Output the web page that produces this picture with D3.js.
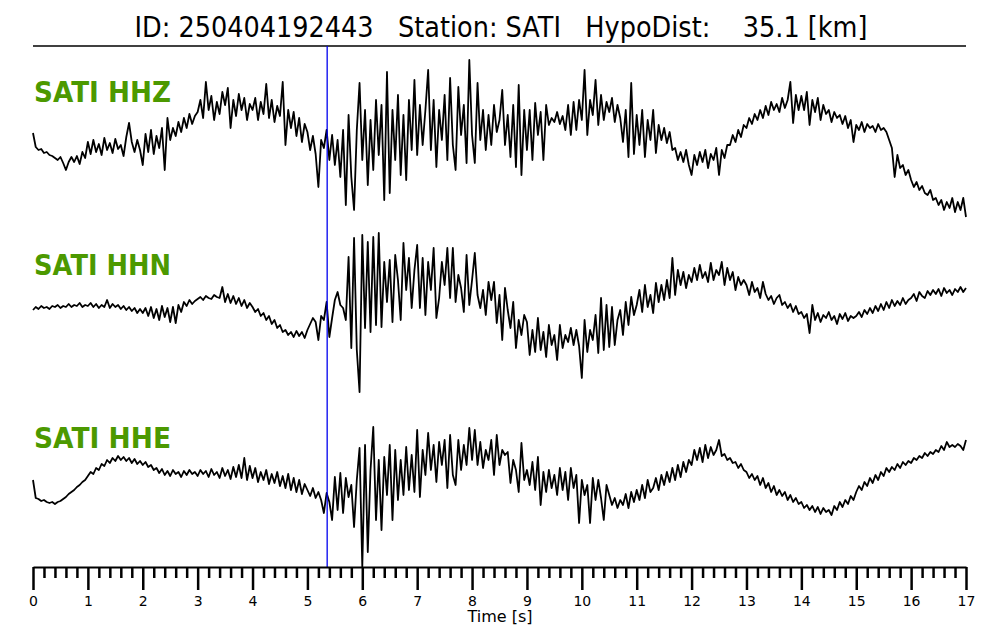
<!DOCTYPE html>
<html><head><meta charset="utf-8">
<script src="https://cdn.jsdelivr.net/npm/d3@7"></script>
<style>body{margin:0;background:#fff}</style>
</head><body>
<svg id="c" width="1000" height="640"></svg>
<script>
const eventId = "250404192443";
const station = "SATI";
const hypoDist = "35.1";
const channels = ["HHZ", "HHN", "HHE"];
const pickTime = 5.36;
const majorTicks = [0,1,2,3,4,5,6,7,8,9,10,11,12,13,14,15,16,17];
const timeLabel = "Time [s]";

const hhz = [
 7,-7,-10,-9,-13,-12,-15,-16,-18,-20,-17,-23,-30,-22,-17,-22,-16,-24,-12,-18,
 -2,-14,0,-12,-4,-15,2,-10,-3,-13,1,-9,-5,-16,3,17,-2,-12,0,-10,
 -25,6,-12,10,-14,4,-8,12,-30,22,0,12,4,18,8,22,12,26,16,24,
 28,40,22,58,30,44,20,38,26,48,35,52,12,40,24,46,30,42,20,36,
 30,42,20,38,26,56,22,40,18,34,24,58,-5,30,12,28,4,22,-2,16,
 8,-10,4,-14,-47,0,-8,10,-20,5,-25,0,-37,10,-65,25,-37,-70,10,57,
 -20,30,-45,20,-30,40,-15,35,-60,68,-53,30,-20,45,-35,25,-40,40,-10,60,
 -15,35,-5,30,70,-10,40,-27,30,0,45,-20,62,-5,-30,53,5,35,-23,80,
 5,-23,57,0,30,-10,25,-5,35,8,20,50,-5,25,-17,35,-27,55,-35,30,
 -10,30,-20,37,5,28,-20,35,15,22,18,28,16,24,10,35,5,38,10,40,
 20,70,5,40,25,60,15,45,20,38,28,42,18,35,22,-2,30,-17,57,-14,
 25,-5,30,-17,20,0,30,-13,15,0,12,-3,8,-10,-8,-20,-12,-22,-10,-25,
 -35,-15,-25,-12,-22,-10,-28,-14,-20,-8,-35,-10,-18,-5,-5,5,-2,10,3,15,
 12,22,16,26,20,30,22,34,25,38,30,36,28,42,32,40,58,17,45,30,
 44,30,48,15,40,28,42,20,35,26,30,18,28,22,25,16,24,12,20,-2,
 15,10,18,8,16,12,14,8,16,10,12,8,0,-8,-37,-15,-28,-25,-35,-30,
 -40,-47,-42,-50,-46,-53,-55,-50,-60,-58,-65,-60,-70,-62,-68,-58,-72,-62,-70,-58,-77
];
const hhn = [
 0,3,1,4,2,3,1,4,3,5,2,4,3,6,3,5,4,7,3,5,
 4,7,3,6,2,5,3,10,2,6,3,5,1,4,0,3,-1,2,-3,1,
 -3,2,-6,3,-8,1,-10,4,-7,2,-12,3,-13,5,-2,8,4,10,6,9,
 11,13,10,14,12,11,15,13,12,23,8,16,7,14,6,12,4,10,2,7,
 3,-2,1,-6,-3,-10,-6,-14,-10,-18,-15,-22,-20,-25,-22,-27,-21,-26,-22,-28,
 -20,-14,-8,-12,-30,-6,-10,8,-27,-8,10,18,5,2,-10,53,-38,72,-40,-82,
 75,-18,68,-22,73,-15,77,-17,48,8,50,-12,55,30,-10,67,20,52,2,40,
 65,2,52,-5,48,20,62,-8,12,48,25,62,12,62,8,35,22,-2,55,5,
 30,57,15,2,20,-5,28,10,28,-13,15,-30,22,0,-18,8,-38,-10,-25,-5,
 -12,-45,-20,-42,-8,-40,-22,-47,-15,-35,-25,-50,-15,-38,-25,-32,-18,-35,-20,-36,
 -68,-10,-42,-20,-30,-5,-43,12,-40,5,-37,3,-35,-10,0,-25,8,-15,13,-5,
 5,20,-2,25,3,15,-3,27,8,25,10,30,12,52,15,40,25,38,22,35,
 28,42,30,45,32,38,28,47,30,40,35,48,25,42,30,38,20,33,25,30,
 25,15,28,18,22,12,28,16,10,14,6,12,15,5,8,2,6,-2,4,-4,
 -2,-8,-4,-23,5,-10,-3,-12,-5,-8,-2,-10,-6,-14,-4,-9,-3,-11,-6,-8,
 -6,-2,-7,0,-4,2,-3,4,-1,6,0,8,2,10,4,9,5,12,6,10,
 12,16,9,18,14,12,19,15,20,16,21,14,22,17,20,15,21,18,23,18,22
];
const hhe = [
 0,-18,-19,-21,-20,-22,-23,-22,-24,-22,-21,-19,-17,-14,-12,-10,-7,-5,-2,0,
 4,8,6,12,10,16,14,20,17,22,19,24,20,23,19,22,17,21,16,19,
 15,18,13,15,10,12,7,11,5,9,4,10,6,8,3,9,5,10,6,8,
 4,10,6,9,3,11,5,8,2,12,4,10,1,13,3,15,2,22,0,14,
 2,12,-2,8,0,10,-4,6,-3,8,-6,4,-8,6,-10,2,-12,0,-14,-4,
 -10,-16,-8,-18,-12,-20,-33,-13,-22,-40,3,-30,7,-33,2,-17,-5,-47,0,32,
 -87,35,-72,10,53,-40,20,-50,23,-15,35,-40,30,-20,20,-15,33,-10,25,-12,
 50,-17,30,5,47,10,35,-2,38,15,40,-8,45,5,-5,40,10,35,15,52,
 20,50,15,38,12,30,20,40,5,45,15,30,25,28,-3,20,10,-12,37,0,
 10,-5,18,-10,23,-25,8,-12,10,-8,5,-15,12,-10,8,-20,12,-8,5,-43,
 0,-15,-5,-43,2,-20,0,-18,-40,-5,-15,-25,-18,-28,-20,-25,-14,-28,-12,-22,
 -10,-20,-5,-18,0,-12,-8,2,-10,5,-5,8,-2,12,0,15,3,18,8,20,
 15,30,20,32,18,35,22,33,25,30,40,24,26,20,22,17,18,12,16,10,
 8,2,6,0,4,-5,2,-8,-3,-12,-6,-15,-10,-16,-12,-20,-15,-22,-18,-24,
 -22,-28,-25,-30,-26,-32,-27,-34,-28,-32,-30,-35,-26,-30,-22,-27,-20,-24,-16,-20,
 -12,-6,-10,-2,-6,2,-3,5,0,8,4,12,8,13,10,16,12,18,15,19,
 17,22,20,24,22,27,24,28,26,30,28,34,30,38,33,35,33,36,34,30,40
];
const traces = [hhz, hhn, hhe];

const svg = d3.select("#c");
const W = 1000, H = 640;
const left = 33, right = 966, axisY = 567, topLine = 46;
const x = d3.scaleLinear().domain([0, 17]).range([left, right]);
const centers = [140, 310, 480];
const labelY = [102, 275, 448];

svg.append("rect").attr("width", W).attr("height", H).attr("fill", "#fff");

// title
svg.append("text")
  .attr("x", 501).attr("y", 37)
  .attr("text-anchor", "middle")
  .attr("font-family", "DejaVu Sans")
  .attr("font-size", 28)
  .attr("textLength", 733).attr("lengthAdjust", "spacingAndGlyphs")
  .style("white-space", "pre")
  .text(`ID: ${eventId}   Station: ${station}   HypoDist:    ${hypoDist} [km]`);

svg.append("line")
  .attr("x1", left).attr("x2", right).attr("y1", topLine).attr("y2", topLine)
  .attr("stroke", "#000").attr("stroke-width", 1.5);

// traces
traces.forEach((d, k) => {
  const y = d3.scaleLinear().domain([-100, 100]).range([centers[k] + 100, centers[k] - 100]);
  const n = d.length;
  const line = d3.line()
    .x((v, i) => x(i * 17 / (n - 1)))
    .y(v => y(v));
  svg.append("path").datum(d)
    .attr("d", line)
    .attr("fill", "none").attr("stroke", "#000")
    .attr("stroke-width", 1.8).attr("stroke-linejoin", "round");
  svg.append("text")
    .attr("x", 34).attr("y", labelY[k])
    .attr("font-family", "DejaVu Sans").attr("font-weight", "bold")
    .attr("font-size", 28).attr("fill", "#4c9900")
    .attr("textLength", 137).attr("lengthAdjust", "spacingAndGlyphs")
    .text(`${station} ${channels[k]}`);
});

// pick line
svg.append("line")
  .attr("x1", x(pickTime)).attr("x2", x(pickTime))
  .attr("y1", topLine).attr("y2", axisY)
  .attr("stroke", "#0000ee").attr("stroke-width", 1.3);

// axis
const minorTicks = d3.range(0, 85).map(i => i / 5).filter(v => Math.abs(v - Math.round(v)) > 1e-6);
const gMinor = svg.append("g").attr("transform", `translate(0,${axisY})`)
  .call(d3.axisBottom(x).tickValues(minorTicks).tickSize(11).tickFormat(""));
gMinor.select(".domain").remove();
gMinor.selectAll("line").attr("stroke-width", 2.5);

const gMajor = svg.append("g").attr("transform", `translate(0,${axisY})`)
  .call(d3.axisBottom(x).tickValues(majorTicks).tickSize(23).tickPadding(6).tickSizeOuter(0).tickFormat(d3.format("d")));
gMajor.select(".domain").attr("stroke-width", 2);
gMajor.selectAll("line").attr("stroke-width", 2.5);
gMajor.selectAll("text").attr("font-family", "DejaVu Sans").attr("font-size", 14).attr("fill", "#000");

svg.append("text")
  .attr("x", 500).attr("y", 622)
  .attr("text-anchor", "middle")
  .attr("font-family", "DejaVu Sans").attr("font-size", 16)
  .text(timeLabel);
</script>
</body></html>
